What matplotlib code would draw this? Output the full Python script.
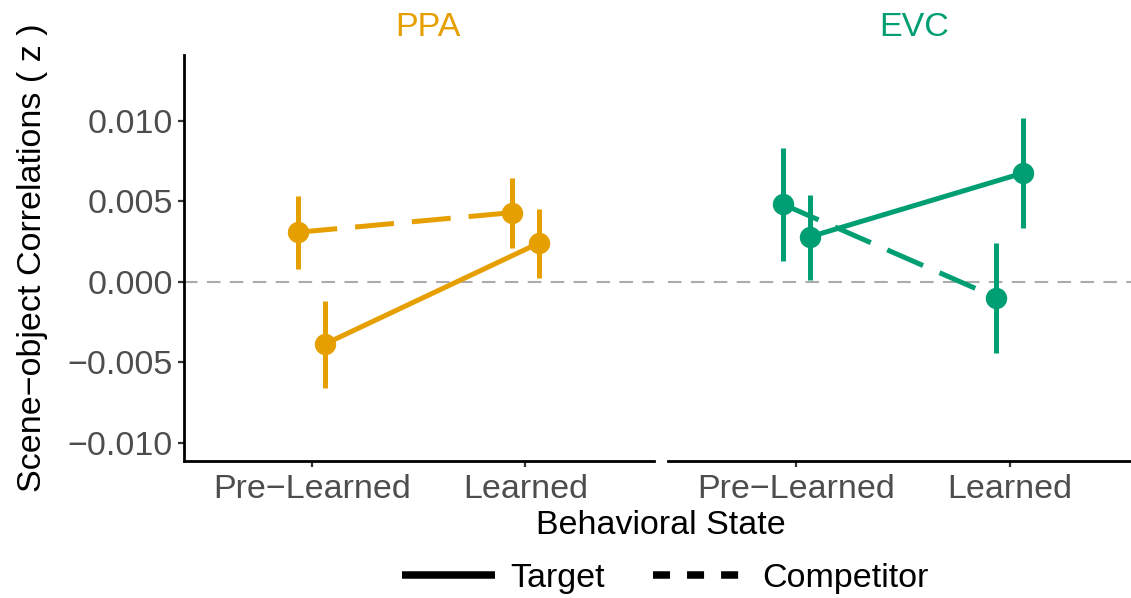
import matplotlib
matplotlib.use('Agg')
import matplotlib.pyplot as plt
from matplotlib.lines import Line2D

plt.rcParams['font.family'] = ['Liberation Sans', 'DejaVu Sans']

# Scene-object correlations by region, behavioral state and item type
regions = ['PPA', 'EVC']
region_colors = {'PPA': '#E69F00', 'EVC': '#009E73'}
states = ['Pre\u2212Learned', 'Learned']
types = ['Target', 'Competitor']

mean = {
    ('PPA', 'Target'): [-0.00387, 0.00239],
    ('PPA', 'Competitor'): [0.00307, 0.00429],
    ('EVC', 'Target'): [0.00278, 0.00675],
    ('EVC', 'Competitor'): [0.00481, -0.00099],
}
lower = {
    ('PPA', 'Target'): [-0.00660, 0.00025],
    ('PPA', 'Competitor'): [0.00081, 0.00211],
    ('EVC', 'Target'): [0.00010, 0.00332],
    ('EVC', 'Competitor'): [0.00129, -0.00441],
}
upper = {
    ('PPA', 'Target'): [-0.00118, 0.00450],
    ('PPA', 'Competitor'): [0.00534, 0.00642],
    ('EVC', 'Target'): [0.00539, 0.01015],
    ('EVC', 'Competitor'): [0.00829, 0.00239],
}

yticks = [-0.010, -0.005, 0.000, 0.005, 0.010]
ytick_labels = ['\u22120.010', '\u22120.005', '0.000', '0.005', '0.010']

dodge = {'Target': 0.0625, 'Competitor': -0.0625}
dash_style = {'Target': None, 'Competitor': (7.8, 3.6)}

W, H = 1131, 598
fig = plt.figure(figsize=(W / 100, H / 100), dpi=100)

panel_w = 470 / W
panel_h = 406 / H
panel_b = (H - 461) / H
lefts = {'PPA': 183.5 / W, 'EVC': 668 / W}
title_x = {'PPA': 428 / W, 'EVC': 914 / W}

fs = 24.5
lw = 3.6

for region in regions:
    ax = fig.add_axes([lefts[region], panel_b, panel_w, panel_h])
    col = region_colors[region]
    ax.axhline(0, color='#ABABAB', lw=1.5, dashes=(6.5, 4.5), zorder=1)
    for t in types:
        xs = [i + 1 + dodge[t] for i in range(len(states))]
        m = mean[(region, t)]
        line, = ax.plot(xs, m, color=col, lw=lw, zorder=3,
                        solid_capstyle='butt')
        if dash_style[t] is not None:
            line.set_dashes(dash_style[t])
        ax.vlines(xs, lower[(region, t)], upper[(region, t)], color=col,
                  lw=lw, capstyle='butt', zorder=3)
        ax.plot(xs, m, 'o', color=col, ms=14.4, zorder=4)

    ax.set_xlim(0.4, 2.6)
    ax.set_ylim(-0.01114, 0.01408)
    ax.set_xticks([1, 2])
    ax.set_xticklabels(states, fontsize=fs, color='#4D4D4D')
    for s in ['top', 'right']:
        ax.spines[s].set_visible(False)
    ax.spines['bottom'].set_linewidth(2)
    ax.tick_params(axis='both', length=4.5, width=1.6, color='#333333',
                   pad=3)
    ax.tick_params(axis='x', pad=5)
    if region == 'PPA':
        ax.spines['left'].set_linewidth(2)
        ax.set_yticks(yticks)
        ax.set_yticklabels(ytick_labels, fontsize=fs, color='#4D4D4D')
    else:
        ax.spines['left'].set_visible(False)
        ax.set_yticks([])
    ax.patch.set_alpha(0)
    fig.text(title_x[region], (H - 27.5) / H, region, color=col,
             fontsize=fs, ha='center', va='center')

fig.text(660.7 / W, (H - 525) / H, 'Behavioral State', fontsize=fs,
         ha='center', va='center')
fig.text(33 / W, panel_b + panel_h / 2, 'Scene\u2212object Correlations ( z )',
         fontsize=fs, rotation=90, ha='center', va='center')

handles = [Line2D([], [], color='black', lw=5.4, solid_capstyle='butt'),
           Line2D([], [], color='black', lw=5.4, dashes=(2.27, 2.27))]
fig.legend(handles, types, loc='center', bbox_to_anchor=(665 / W, (H - 578) / H),
           ncol=2, frameon=False, fontsize=fs, handlelength=2.75,
           handletextpad=0.45, columnspacing=1.4, borderpad=0, borderaxespad=0)

fig.savefig('out.png', dpi=100)
